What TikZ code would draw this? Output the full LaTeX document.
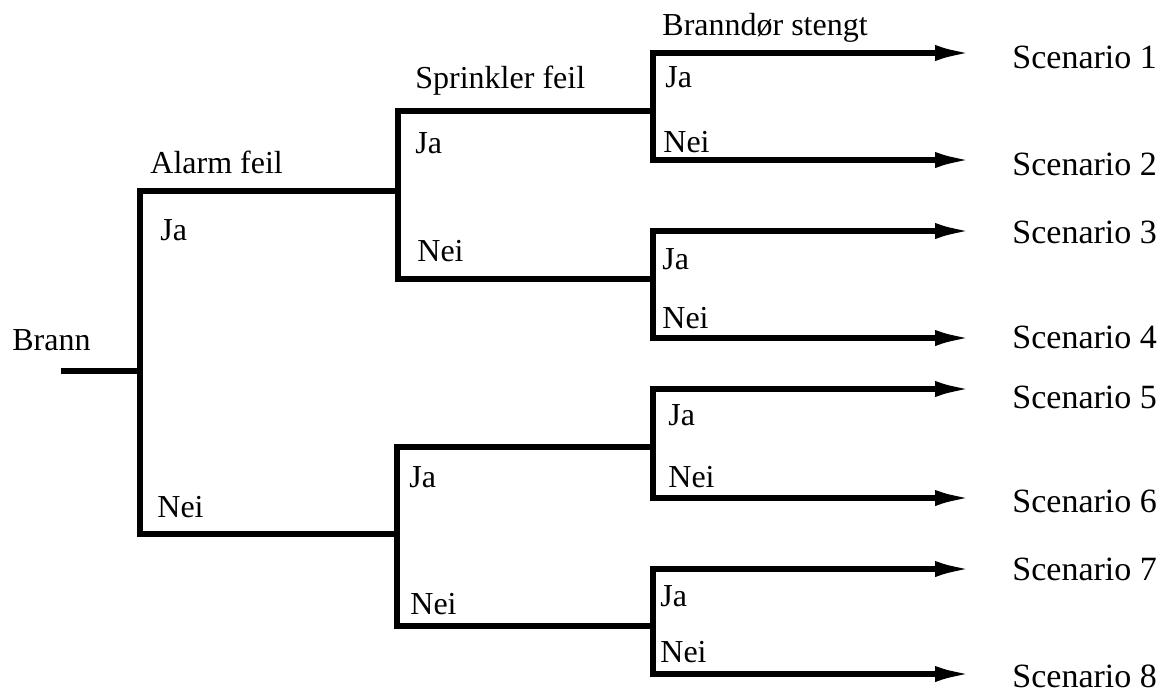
\documentclass[tikz,border=0pt]{standalone}
\usepackage{fontspec}
\setmainfont{Liberation Serif}
\usepackage{tikz}
\usetikzlibrary{arrows.meta}

\tikzset{
	branch/.style={line width=3pt},
	outcome/.style={branch, -{Latex[length=19pt,width=8pt]}},
	lbl/.style={anchor=base west, inner sep=0pt, font=\fontsize{16}{19}\selectfont},
	scen/.style={anchor=base west, inner sep=0pt, font=\fontsize{17}{20}\selectfont}
}

\begin{document}
\begin{tikzpicture}[x=0.5pt, y=-0.5pt]
			\useasboundingbox (0,0) rectangle (1167,692);
			
			% Brann
			\node [lbl] (brann) at (12,350) {Brann};
			\coordinate (start) at (61,371);
			\coordinate (alarm) at (140,371);
			\draw [branch] (start) -- (alarm);
			
			% Alarm feil
			\node [lbl] (alarmtxt) at (150,173) {Alarm feil};
			\coordinate (spr1) at (398,191);
			\coordinate (spr2) at (397,534);
			\draw [branch] (spr1) -| (alarm) |- (spr2);
			\node [lbl] (aja) at (160,240) {Ja};
			\node [lbl] (anei) at (157,517) {Nei};
			
			% Sprinkler feil
			\node [lbl] (sprtxt) at (415,88) {Sprinkler feil};
			\coordinate (dor1) at (653,111);
			\coordinate (dor2) at (653,279);
			\coordinate (dor3) at (653,447);
			\coordinate (dor4) at (653,626);
			\draw [branch] (dor1) -| (spr1) |- (dor2);
			\draw [branch] (dor3) -| (spr2) |- (dor4);
			\node [lbl] (s1ja) at (415,153) {Ja};
			\node [lbl] (s1nei) at (417,261) {Nei};
			\node [lbl] (s2ja) at (409,487) {Ja};
			\node [lbl] (s2nei) at (410,614) {Nei};
			
			% Branndør stengt
			\node [lbl] (dortxt) at (662,35) {Branndør stengt};
			\coordinate (end1) at (973,53);
			\coordinate (end2) at (973,160);
			\coordinate (end3) at (973,231);
			\coordinate (end4) at (973,338);
			\coordinate (end5) at (973,389);
			\coordinate (end6) at (973,498);
			\coordinate (end7) at (973,569);
			\coordinate (end8) at (973,674);
			\draw [outcome] (dor1) |- (end1);
			\draw [outcome] (dor1) |- (end2);
			\draw [outcome] (dor2) |- (end3);
			\draw [outcome] (dor2) |- (end4);
			\draw [outcome] (dor3) |- (end5);
			\draw [outcome] (dor3) |- (end6);
			\draw [outcome] (dor4) |- (end7);
			\draw [outcome] (dor4) |- (end8);
			\node [lbl] (d1ja) at (665,87) {Ja};
			\node [lbl] (d1nei) at (663,152) {Nei};
			\node [lbl] (d2ja) at (662,269) {Ja};
			\node [lbl] (d2nei) at (662,328) {Nei};
			\node [lbl] (d3ja) at (668,425) {Ja};
			\node [lbl] (d3nei) at (668,487) {Nei};
			\node [lbl] (d4ja) at (660,606) {Ja};
			\node [lbl] (d4nei) at (660,662) {Nei};
			
			% Scenarios
			\node [scen] (sc1) at (1012,68) {Scenario 1};
			\node [scen] (sc2) at (1012,175) {Scenario 2};
			\node [scen] (sc3) at (1012,243) {Scenario 3};
			\node [scen] (sc4) at (1012,348) {Scenario 4};
			\node [scen] (sc5) at (1012,408) {Scenario 5};
			\node [scen] (sc6) at (1012,512) {Scenario 6};
			\node [scen] (sc7) at (1012,580) {Scenario 7};
			\node [scen] (sc8) at (1012,687) {Scenario 8};
		
		\end{tikzpicture}
\end{document}
